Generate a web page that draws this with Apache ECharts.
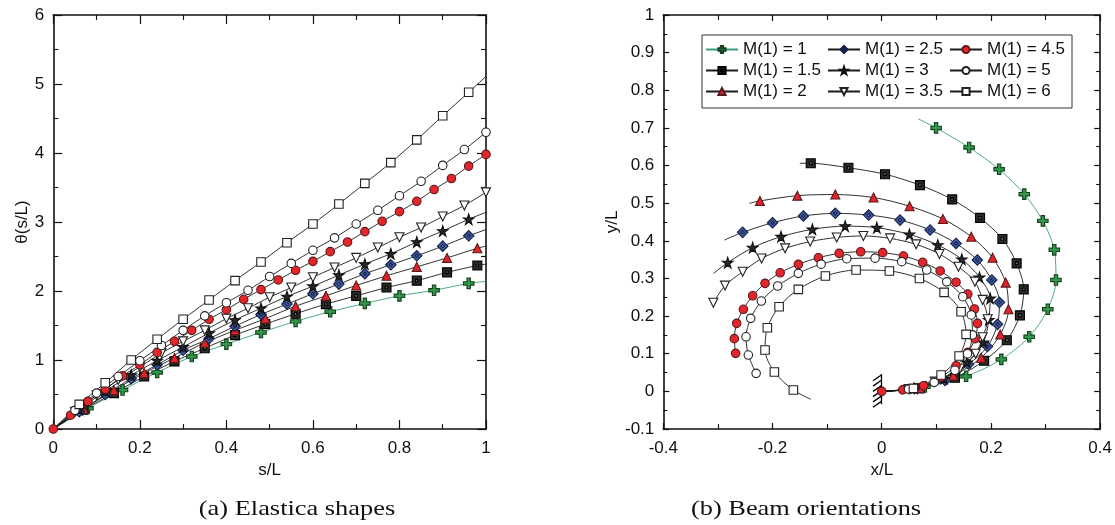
<!DOCTYPE html>
<html><head><meta charset="utf-8">
<script src="https://cdn.jsdelivr.net/npm/echarts@6/dist/echarts.min.js"></script>
<style>html,body{margin:0;padding:0;background:#fff}#c{width:1115px;height:525px}</style>
</head><body><div id="c"></div>
<script>
const seriesNames = ['M(1) = 1','M(1) = 1.5','M(1) = 2','M(1) = 2.5','M(1) = 3','M(1) = 3.5','M(1) = 4.5','M(1) = 5','M(1) = 6'];
const legendOrder = ['M(1) = 1','M(1) = 2.5','M(1) = 4.5','M(1) = 1.5','M(1) = 3','M(1) = 5','M(1) = 2','M(1) = 3.5','M(1) = 6'];
const captions = ['(a) Elastica shapes', '(b) Beam orientations'];

// Panel (a): [s/L, theta] at markers
const thetaM1 = [[0,0],[0.08,0.30],[0.16,0.565],[0.24,0.82],[0.32,1.05],[0.40,1.23],[0.48,1.40],[0.56,1.56],[0.64,1.70],[0.72,1.82],[0.80,1.93],[0.88,2.01],[0.96,2.11]];
const thetaM15 = [[0,0],[0.07,0.28],[0.14,0.52],[0.21,0.76],[0.28,0.98],[0.35,1.17],[0.42,1.36],[0.49,1.52],[0.56,1.67],[0.63,1.81],[0.70,1.93],[0.77,2.05],[0.84,2.15],[0.91,2.27],[0.98,2.37]];
const thetaM2 = [[0,0],[0.07,0.29],[0.14,0.56],[0.21,0.81],[0.28,1.03],[0.35,1.25],[0.42,1.43],[0.49,1.60],[0.56,1.78],[0.63,1.93],[0.70,2.08],[0.77,2.22],[0.84,2.35],[0.91,2.48],[0.98,2.62]];
const thetaM25 = [[0,0],[0.06,0.25],[0.12,0.50],[0.18,0.73],[0.24,0.93],[0.30,1.14],[0.36,1.31],[0.42,1.49],[0.48,1.66],[0.54,1.81],[0.60,1.96],[0.66,2.10],[0.72,2.25],[0.78,2.38],[0.84,2.51],[0.90,2.65],[0.96,2.80]];
const thetaM3 = [[0,0],[0.06,0.28],[0.12,0.55],[0.18,0.78],[0.24,0.99],[0.30,1.19],[0.36,1.39],[0.42,1.58],[0.48,1.75],[0.54,1.92],[0.60,2.07],[0.66,2.23],[0.72,2.39],[0.78,2.54],[0.84,2.71],[0.90,2.87],[0.96,3.04]];
const thetaM35 = [[0,0],[0.05,0.25],[0.10,0.49],[0.15,0.71],[0.20,0.90],[0.25,1.10],[0.30,1.27],[0.35,1.43],[0.40,1.60],[0.45,1.75],[0.50,1.91],[0.55,2.05],[0.60,2.20],[0.65,2.34],[0.70,2.48],[0.75,2.63],[0.80,2.78],[0.85,2.92],[0.90,3.08],[0.95,3.24],[1.00,3.43]];
const thetaM45 = [[0,0],[0.04,0.20],[0.08,0.40],[0.12,0.575],[0.16,0.77],[0.20,0.93],[0.24,1.11],[0.28,1.27],[0.32,1.43],[0.36,1.59],[0.40,1.73],[0.44,1.88],[0.48,2.02],[0.52,2.16],[0.56,2.30],[0.60,2.43],[0.64,2.57],[0.68,2.71],[0.72,2.86],[0.76,3.01],[0.80,3.15],[0.84,3.30],[0.88,3.47],[0.92,3.63],[0.96,3.81],[1.00,3.98]];
const thetaM5 = [[0,0],[0.05,0.27],[0.10,0.52],[0.15,0.76],[0.20,0.99],[0.25,1.21],[0.30,1.43],[0.35,1.64],[0.40,1.83],[0.45,2.01],[0.50,2.21],[0.55,2.40],[0.60,2.59],[0.65,2.77],[0.70,2.97],[0.75,3.17],[0.80,3.38],[0.85,3.59],[0.90,3.82],[0.95,4.05],[1.00,4.30]];
const thetaM6 = [[0,0],[0.06,0.357],[0.12,0.67],[0.18,1.0],[0.24,1.30],[0.30,1.59],[0.36,1.87],[0.42,2.15],[0.48,2.42],[0.54,2.70],[0.60,2.97],[0.66,3.26],[0.72,3.56],[0.78,3.86],[0.84,4.19],[0.90,4.54],[0.96,4.88]];
// line end points without marker (null = line ends at last marker)
const thetaEnds = [[1,2.14],[1,2.39],[1,2.65],[1,2.89],[1,3.14],null,null,null,[1,5.11]];

// Panel (b): [x/L, y/L] at markers
const xyM1 = [[0,0],[0.079,0.012],[0.1545,0.040],[0.219,0.085],[0.270,0.145],[0.304,0.218],[0.319,0.296],[0.316,0.376],[0.295,0.453],[0.261,0.524],[0.215,0.590],[0.160,0.648],[0.0995,0.700]];
const xyM15 = [[0,0],[0.0695,0.008],[0.134,0.036],[0.1875,0.0815],[0.229,0.136],[0.253,0.202],[0.260,0.271],[0.247,0.340],[0.221,0.405],[0.180,0.461],[0.129,0.510],[0.070,0.548],[0.006,0.577],[-0.061,0.594],[-0.130,0.606]];
const xyM2 = [[0,0],[0.0695,0.009],[0.131,0.042],[0.182,0.0895],[0.217,0.151],[0.232,0.218],[0.227,0.289],[0.203,0.355],[0.164,0.411],[0.112,0.458],[0.051,0.492],[-0.015,0.515],[-0.085,0.523],[-0.1545,0.520],[-0.223,0.506]];
const xyM25 = [[0,0],[0.0595,0.007],[0.116,0.029],[0.159,0.072],[0.1935,0.119],[0.212,0.178],[0.2155,0.2365],[0.2015,0.296],[0.175,0.349],[0.136,0.393],[0.0885,0.429],[0.0336,0.455],[-0.024,0.4685],[-0.085,0.473],[-0.1435,0.466],[-0.200,0.448],[-0.2547,0.4225]];
const xyM3 = [[0,0],[0.059,0.008],[0.114,0.034],[0.156,0.077],[0.186,0.130],[0.196,0.190],[0.1985,0.247],[0.179,0.303],[0.1466,0.351],[0.1026,0.389],[0.0507,0.417],[-0.009,0.435],[-0.067,0.439],[-0.127,0.4305],[-0.1844,0.411],[-0.2363,0.382],[-0.282,0.342]];
const xyM35 = [[0,0],[0.049,0.006],[0.097,0.026],[0.143,0.060],[0.172,0.100],[0.1847,0.1437],[0.194,0.1915],[0.1847,0.243],[0.1706,0.2915],[0.1405,0.331],[0.1057,0.365],[0.063,0.3906],[0.0153,0.4065],[-0.0336,0.413],[-0.0824,0.409],[-0.131,0.398],[-0.177,0.380],[-0.220,0.353],[-0.2547,0.318],[-0.287,0.281],[-0.3084,0.2356]];
const xyM45 = [[0,0],[0.0383,0.004],[0.0767,0.015],[0.109,0.038],[0.136,0.068],[0.1576,0.1036],[0.171,0.140],[0.1753,0.1807],[0.1698,0.2188],[0.1576,0.2586],[0.136,0.290],[0.107,0.320],[0.075,0.343],[0.0397,0.3596],[0.0018,0.3685],[-0.0385,0.371],[-0.078,0.3667],[-0.116,0.355],[-0.1527,0.3375],[-0.186,0.315],[-0.2137,0.287],[-0.2363,0.254],[-0.2534,0.218],[-0.2656,0.1807],[-0.270,0.140],[-0.2675,0.101]];
const xyM5 = [[0,0],[0.049,0.006],[0.096,0.024],[0.134,0.056],[0.157,0.100],[0.166,0.150],[0.164,0.203],[0.1484,0.2515],[0.119,0.291],[0.0824,0.3224],[0.0366,0.3446],[-0.0122,0.354],[-0.064,0.3525],[-0.111,0.338],[-0.1527,0.3136],[-0.1905,0.280],[-0.2205,0.240],[-0.240,0.194],[-0.2485,0.145],[-0.2443,0.0965],[-0.230,0.0478]];
const xyM6 = [[0,0],[0.058,0.008],[0.1087,0.0434],[0.1417,0.094],[0.1545,0.1515],[0.1453,0.2117],[0.1142,0.263],[0.069,0.300],[0.014,0.320],[-0.047,0.3224],[-0.1032,0.3065],[-0.1527,0.271],[-0.188,0.225],[-0.2095,0.169],[-0.2137,0.110],[-0.1966,0.0514],[-0.1618,0.0035]];
const xyEnds = [[0.067,0.724],[-0.150,0.606],[-0.2425,0.4995],[-0.288,0.402],[-0.308,0.3135],null,null,null,[-0.130,-0.021]];

// clamped support at the origin
const clampWall = [[0,0.046],[0,-0.034]];
const clampHatchTops = [0.044,0.030,0.016,0.002,-0.012,-0.026];

const thetaData = [thetaM1,thetaM15,thetaM2,thetaM25,thetaM3,thetaM35,thetaM45,thetaM5,thetaM6];
const xyData = [xyM1,xyM15,xyM2,xyM25,xyM3,xyM35,xyM45,xyM5,xyM6];
const ORIGIN_MARKER_SERIES = 6; // the red circle is the one visible at the origin

const INK = '#1a1a1a';
const styles = [
  {symbol:'path://M3.4,0H6.6V3.4H10V6.6H6.6V10H3.4V6.6H0V3.4H3.4Z', size:10.5, fill:'#2f9a49', stroke:'#16401f', line:'#3aa07c'},
  {symbol:'path://M0,0H10V10H0Z M3.6,3.6V6.4H6.4V3.6Z', size:9, fill:'#2a2a24', stroke:'#000', line:INK},
  {symbol:'triangle', size:9, fill:'#e3222a', stroke:'#5a1a1a', line:INK},
  {symbol:'path://M5,0L10,5L5,10L0,5Z M5,3.4L3.4,5L5,6.6L6.6,5Z', size:10.5, fill:'#3b5aa3', stroke:'#15204a', line:INK},
  {symbol:'path://M5,0L6.2,3.6L10,3.6L6.9,5.8L8.1,9.5L5,7.2L1.9,9.5L3.1,5.8L0,3.6L3.8,3.6Z', size:10.5, fill:'#262626', stroke:'#111', line:INK},
  {symbol:'path://M0,0H10L5,9Z', size:9, fill:'#fff', stroke:'#222', line:INK},
  {symbol:'circle', size:8.5, fill:'#e4252b', stroke:'#5a1818', line:INK},
  {symbol:'circle', size:8.5, fill:'#fff', stroke:'#222', line:INK},
  {symbol:'rect', size:8.5, fill:'#fff', stroke:'#222', line:INK}
];

function mkSeries(i, pts, end, xi, yi) {
  const data = pts.map((p, k) => (k === 0 && i !== ORIGIN_MARKER_SERIES) ? {value: p.slice(), symbol: 'none'} : p.slice());
  if (end) data.push({value: end.slice(), symbol: 'none'});
  const st = styles[i];
  return {
    type:'line', name: seriesNames[i], xAxisIndex: xi, yAxisIndex: yi, data,
    smooth: 0.3, symbol: st.symbol, symbolSize: st.size, showSymbol: true, showAllSymbol: true,
    itemStyle: {color: st.fill, borderColor: st.stroke, borderWidth: 1.1},
    lineStyle: {color: st.line, width: 0.9},
    emphasis: {disabled: true}, animation: false, clip: false
  };
}

const series = [];
for (let i = 0; i < 9; i++) series.push(mkSeries(i, thetaData[i], thetaEnds[i], 0, 0));
for (let i = 0; i < 9; i++) series.push(mkSeries(i, xyData[i], xyEnds[i], 2, 2));
const hatchSegs = clampHatchTops.map(y => ({coords: [[0, y], [-0.016, y - 0.016]]}));
series.push({type:'lines', coordinateSystem:'cartesian2d', xAxisIndex:2, yAxisIndex:2, silent:true, z:1,
  data: [{coords: clampWall}].concat(hatchSegs), lineStyle:{color:'#000', width:1.3, opacity:1}, animation:false});

const FONT = 'Liberation Sans, Arial, sans-serif';
const lbl = {fontSize:17, color:'#111', fontFamily: FONT};
function ax(gridIndex, pos, min, max, interval, tickLen, minorLen, label, name, nameGap, margin) {
  const o = {
    type:'value', gridIndex, position: pos, min, max, interval,
    axisLine: {show:true, onZero:false, lineStyle:{color:'#111', width:1.6}},
    axisTick: {show:true, inside:true, length: tickLen, lineStyle:{color:'#111', width:1.2}},
    minorTick: {show:true, splitNumber:2, length: minorLen, lineStyle:{color:'#111', width:1.1}},
    splitLine: {show:false}, minorSplitLine: {show:false},
    axisLabel: Object.assign({show: label, margin: margin}, lbl)
  };
  if (name) {
    o.name = name; o.nameLocation = 'middle'; o.nameGap = nameGap;
    o.nameTextStyle = {fontSize:17, color:'#111', fontFamily: FONT};
  }
  return o;
}

const capFont = '22px "Liberation Serif", "Times New Roman", serif';
const option = {
  backgroundColor:'#fff',
  animation:false,
  graphic: [
    {type:'text', x:297, y:509, scaleX:1.2, silent:true,
     style:{text: captions[0], font: capFont, fill:'#111', align:'center', verticalAlign:'middle', textAlign:'center', textVerticalAlign:'middle'}},
    {type:'text', x:806, y:509, scaleX:1.2, silent:true,
     style:{text: captions[1], font: capFont, fill:'#111', align:'center', verticalAlign:'middle', textAlign:'center', textVerticalAlign:'middle'}}
  ],
  grid: [
    {left:53.3, top:15, width:432.7, height:414},
    {left:663.3, top:15, width:437, height:414}
  ],
  xAxis: [
    ax(0,'bottom',0,1,0.2,9,5,true,'s/L',32,11),
    ax(0,'top',0,1,0.2,9,5,false),
    ax(1,'bottom',-0.4,0.4,0.2,6,5,true,'x/L',32,11),
    ax(1,'top',-0.4,0.4,0.2,6,5,false)
  ],
  yAxis: [
    Object.assign(ax(0,'left',0,6,1,9,5,true,'θ(s/L)',20,9), {nameRotate:90}),
    ax(0,'right',0,6,1,9,5,false),
    Object.assign(ax(1,'left',-0.1,1,0.1,6,4,true,'y/L',42,9), {nameRotate:90}),
    ax(1,'right',-0.1,1,0.1,6,4,false)
  ],
  legend: {
    left:702, top:35, width:385, orient:'horizontal', padding:[6,5,8,3], itemGap:4,
    itemWidth:32, itemHeight:9, borderColor:'#333', borderWidth:1, selectedMode:false,
    data: legendOrder,
    textStyle:{fontSize:17, color:'#111', fontFamily: FONT, width:80, lineHeight:16.5}
  },
  series
};
const chart = echarts.init(document.getElementById('c'), null, {renderer:'canvas'});
chart.setOption(option);
</script>
</body></html>
